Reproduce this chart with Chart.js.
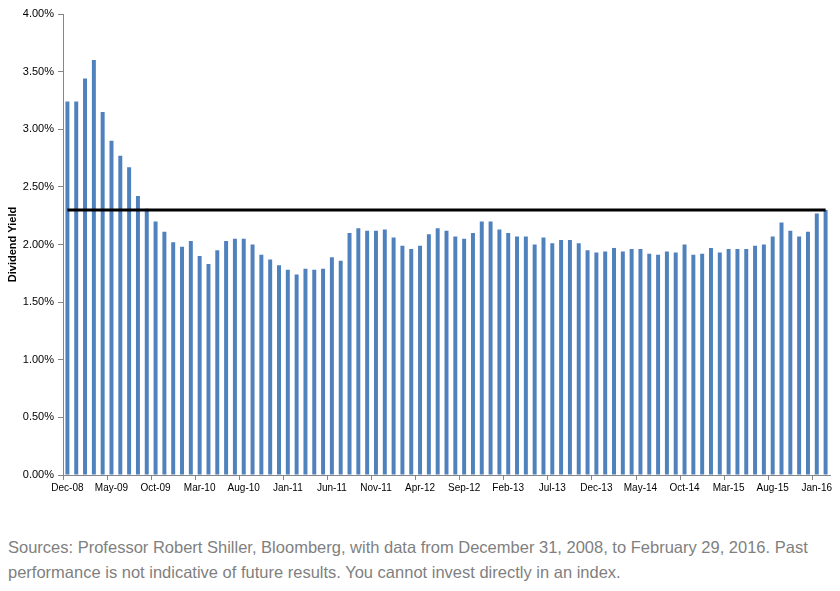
<!DOCTYPE html>
<html>
<head>
<meta charset="utf-8">
<script src="https://cdn.jsdelivr.net/npm/chart.js@4"></script>
<style>
  body { margin: 0; background: #fff; }
  .wrap { position: relative; width: 840px; height: 510px; }
  .note {
    position: absolute; left: 8px; top: 535px; width: 805px;
    font-family: "Liberation Sans", Arial, sans-serif; font-size: 16.5px;
    line-height: 25px; color: #7f7f7f;
  }
</style>
</head>
<body>
<div class="wrap"><canvas id="chart"></canvas></div>
<div class="note">Sources: Professor Robert Shiller, Bloomberg, with data from December 31, 2008, to February 29, 2016. Past performance is not indicative of future results. You cannot invest directly in an index.</div>
<script>
const months = [
  "Dec-08", "Jan-09", "Feb-09", "Mar-09", "Apr-09", "May-09", "Jun-09", "Jul-09", "Aug-09", "Sep-09", "Oct-09", "Nov-09",
  "Dec-09", "Jan-10", "Feb-10", "Mar-10", "Apr-10", "May-10", "Jun-10", "Jul-10", "Aug-10", "Sep-10", "Oct-10", "Nov-10",
  "Dec-10", "Jan-11", "Feb-11", "Mar-11", "Apr-11", "May-11", "Jun-11", "Jul-11", "Aug-11", "Sep-11", "Oct-11", "Nov-11",
  "Dec-11", "Jan-12", "Feb-12", "Mar-12", "Apr-12", "May-12", "Jun-12", "Jul-12", "Aug-12", "Sep-12", "Oct-12", "Nov-12",
  "Dec-12", "Jan-13", "Feb-13", "Mar-13", "Apr-13", "May-13", "Jun-13", "Jul-13", "Aug-13", "Sep-13", "Oct-13", "Nov-13",
  "Dec-13", "Jan-14", "Feb-14", "Mar-14", "Apr-14", "May-14", "Jun-14", "Jul-14", "Aug-14", "Sep-14", "Oct-14", "Nov-14",
  "Dec-14", "Jan-15", "Feb-15", "Mar-15", "Apr-15", "May-15", "Jun-15", "Jul-15", "Aug-15", "Sep-15", "Oct-15", "Nov-15",
  "Dec-15", "Jan-16", "Feb-16"
];

// dividend yield, %
const dividendYield = [
  3.24, 3.24, 3.44, 3.60, 3.15, 2.90, 2.77, 2.67, 2.42, 2.31, 2.20, 2.11,
  2.02, 1.98, 2.03, 1.90, 1.83, 1.95, 2.03, 2.05, 2.05, 2.00, 1.91, 1.87,
  1.82, 1.78, 1.74, 1.79, 1.78, 1.79, 1.89, 1.86, 2.10, 2.14, 2.12, 2.12,
  2.13, 2.06, 1.99, 1.96, 1.99, 2.09, 2.14, 2.12, 2.07, 2.05, 2.10, 2.20,
  2.20, 2.13, 2.10, 2.07, 2.07, 2.00, 2.06, 2.01, 2.04, 2.04, 2.01, 1.95,
  1.93, 1.94, 1.97, 1.94, 1.96, 1.96, 1.92, 1.91, 1.94, 1.93, 2.00, 1.91,
  1.92, 1.97, 1.93, 1.96, 1.96, 1.96, 1.99, 2.00, 2.07, 2.19, 2.12, 2.07,
  2.11, 2.27, 2.30
];

const averageYield = 2.30;
const yTicks = [0, 0.5, 1, 1.5, 2, 2.5, 3, 3.5, 4];

const font = "'Liberation Sans', Arial, sans-serif";

new Chart(document.getElementById("chart"), {
  data: {
    labels: months,
    datasets: [
      {
        type: "line",
        data: months.map(() => averageYield),
        borderColor: "#000000",
        borderWidth: 3,
        pointRadius: 0,
        order: 0,
      },
      {
        type: "bar",
        data: dividendYield,
        backgroundColor: "#4F81BD",
        categoryPercentage: 1,
        barPercentage: 0.45,
        order: 1,
      },
    ],
  },
  options: {
    responsive: true,
    maintainAspectRatio: false,
    animation: false,
    layout: {
      padding: { top: 14, right: 10, left: 6, bottom: 0 },
    },
    plugins: {
      legend: { display: false },
      tooltip: { enabled: false },
    },
    scales: {
      x: {
        offset: true,
        afterFit (scale) {
          scale.height = 35;
        },
        border: { color: "#868686", width: 1 },
        grid: {
          offset: true,
          drawOnChartArea: false,
          tickLength: 5,
          color: (ctx) => (ctx.index % 5 === 0 ? "#868686" : "rgba(0,0,0,0)"),
        },
        ticks: {
          autoSkip: false,
          maxRotation: 0,
          padding: 2,
          color: "#000000",
          font: { family: font, size: 10 },
          callback (value, index) {
            return index % 5 === 0 ? months[index] : "";
          },
        },
      },
      y: {
        min: 0,
        max: 4,
        afterFit (scale) {
          scale.width = 57;
        },
        afterBuildTicks (scale) {
          scale.ticks = yTicks.map((v) => ({ value: v }));
        },
        border: { color: "#868686", width: 1 },
        grid: {
          drawOnChartArea: false,
          tickLength: 5,
          color: "#868686",
        },
        ticks: {
          padding: 4,
          color: "#000000",
          font: { family: font, size: 11 },
          callback (value) {
            return value.toFixed(2) + "%";
          },
        },
        title: {
          display: true,
          text: "Dividend Yield",
          color: "#000000",
          padding: { top: 0, bottom: 4 },
          font: { family: font, size: 11, weight: "bold" },
        },
      },
    },
  },
});
</script>
</body>
</html>
